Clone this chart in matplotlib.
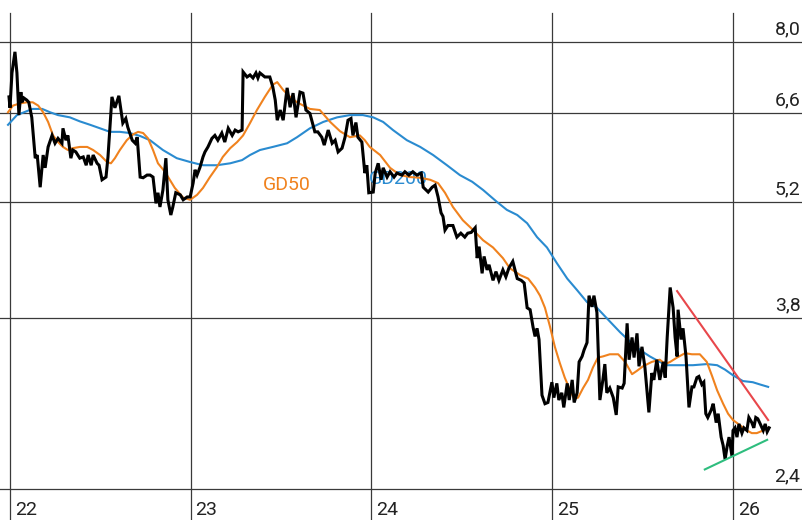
import matplotlib
matplotlib.use("Agg")
import matplotlib.pyplot as plt
import pandas as pd

plt.rcParams['font.family'] = ['Roboto', 'DejaVu Sans']

# day offsets from 2022-01-01 and closing prices
price_days = [-2, 0, 4, 10, 14, 18, 22, 24, 28, 34, 38, 44, 51, 55, 61, 67, 71, 77, 85, 91,
              97, 105, 107, 113, 117, 123, 127, 133, 141, 148, 154, 158, 164, 168, 176, 180, 186, 194, 198, 206,
              212, 220, 228, 234, 238, 247, 253, 257, 263, 269, 277, 283, 289, 295, 299, 303, 309, 315, 319, 325,
              329, 335, 344, 350, 358, 364, 370, 374, 378, 384, 390, 394, 400, 408, 414, 420, 428, 434, 441, 449,
              455, 461, 469, 471, 479, 485, 491, 497, 501, 505, 515, 525, 531, 536, 540, 546, 552, 560, 566, 572,
              578, 586, 592, 598, 606, 616, 622, 630, 635, 643, 651, 657, 663, 671, 677, 683, 689, 693, 699, 703,
              711, 717, 721, 725, 734, 738, 744, 750, 754, 762, 768, 776, 782, 792, 798, 806, 814, 822, 831, 835,
              845, 853, 859, 865, 871, 875, 879, 885, 895, 903, 911, 919, 925, 932, 940, 944, 948, 954, 958, 964,
              968, 976, 982, 988, 996, 1002, 1008, 1016, 1025, 1033, 1039, 1045, 1051, 1057, 1061, 1065, 1069, 1075, 1081, 1087,
              1095, 1099, 1105, 1109, 1115, 1119, 1126, 1130, 1136, 1140, 1146, 1150, 1156, 1160, 1166, 1170, 1176, 1180, 1186, 1192,
              1198, 1202, 1206, 1212, 1219, 1225, 1229, 1237, 1241, 1247, 1251, 1257, 1261, 1267, 1271, 1277, 1283, 1291, 1297, 1301,
              1307, 1313, 1320, 1324, 1328, 1334, 1340, 1344, 1348, 1350, 1356, 1360, 1366, 1368, 1372, 1378, 1382, 1388, 1392, 1398,
              1402, 1406, 1410, 1417, 1421, 1427, 1431, 1437, 1441, 1445, 1449, 1453, 1459, 1461, 1465, 1469, 1473, 1479, 1483, 1489,
              1493, 1499, 1503, 1507, 1511, 1516, 1522, 1526, 1530, 1534]
price = [6.90, 6.70, 7.36, 7.79, 7.36, 6.57, 6.99, 6.80, 6.88, 6.84, 6.80, 6.53, 5.85, 5.90, 5.41, 5.90, 5.70, 6.03, 6.22, 6.09,
         6.17, 6.09, 6.34, 6.14, 6.22, 5.85, 5.98, 5.95, 5.85, 5.87, 5.74, 5.90, 5.74, 5.90, 5.77, 5.74, 5.52, 5.56, 5.87, 6.90,
         6.70, 6.92, 6.43, 6.51, 6.36, 6.14, 6.09, 6.19, 5.56, 5.55, 5.59, 5.59, 5.56, 5.18, 5.33, 5.13, 5.37, 5.85, 5.23, 5.02,
         5.13, 5.33, 5.30, 5.23, 5.27, 5.27, 5.47, 5.67, 5.59, 5.71, 5.87, 5.95, 6.03, 6.17, 6.22, 6.14, 6.26, 6.11, 6.34, 6.22,
         6.31, 6.28, 6.31, 7.38, 7.28, 7.32, 7.26, 7.36, 7.26, 7.36, 7.28, 7.28, 7.09, 6.84, 6.48, 6.66, 6.48, 7.07, 6.71, 6.97,
         6.53, 6.99, 6.97, 6.66, 6.60, 6.28, 6.28, 6.19, 6.06, 6.31, 6.09, 6.14, 5.95, 6.01, 6.19, 6.48, 6.51, 6.22, 6.44, 6.19,
         6.11, 5.62, 5.74, 5.33, 5.34, 5.62, 5.77, 5.52, 5.70, 5.56, 5.64, 5.56, 5.62, 5.59, 5.64, 5.59, 5.64, 5.59, 5.62, 5.41,
         5.34, 5.41, 5.44, 5.27, 5.05, 5.00, 4.82, 4.88, 4.88, 4.73, 4.78, 4.73, 4.78, 4.79, 4.85, 4.47, 4.61, 4.29, 4.49, 4.33,
         4.39, 4.21, 4.31, 4.21, 4.33, 4.25, 4.35, 4.43, 4.23, 4.21, 4.18, 3.91, 3.89, 3.71, 3.62, 3.70, 3.59, 3.09, 3.02, 3.03,
         3.20, 3.07, 3.19, 3.05, 3.11, 2.99, 3.19, 3.05, 3.22, 3.03, 3.11, 3.38, 3.43, 3.49, 3.56, 4.04, 3.92, 4.04, 3.86, 3.05,
         3.22, 3.36, 3.11, 3.15, 3.07, 2.93, 3.16, 3.15, 3.19, 3.75, 3.40, 3.61, 3.42, 3.65, 3.34, 3.52, 3.33, 2.95, 3.28, 3.22,
         3.40, 3.22, 3.38, 3.24, 3.61, 4.13, 3.91, 3.61, 3.43, 3.89, 3.59, 3.70, 3.43, 3.28, 2.99, 3.16, 3.16, 3.24, 3.25, 3.18,
         3.20, 2.94, 2.91, 2.97, 3.02, 2.87, 2.94, 2.76, 2.70, 2.60, 2.69, 2.76, 2.62, 2.81, 2.83, 2.76, 2.86, 2.79, 2.83, 2.81,
         2.91, 2.87, 2.83, 2.91, 2.90, 2.86, 2.81, 2.86, 2.80, 2.83]

# 50-day moving average (GD50)
gd50_days = [-4, 6, 20, 34, 46, 57, 67, 77, 87, 97, 107, 117, 127, 141, 156, 168, 182, 196, 204, 212,
             222, 236, 249, 259, 269, 279, 289, 299, 313, 333, 350, 364, 378, 390, 404, 418, 430, 445, 459, 471,
             485, 499, 515, 531, 540, 552, 566, 580, 606, 626, 647, 667, 687, 707, 717, 727, 748, 768, 788, 808,
             829, 849, 865, 879, 895, 915, 936, 956, 976, 996, 1010, 1031, 1047, 1061, 1071, 1081, 1091, 1101, 1111, 1121,
             1132, 1140, 1148, 1158, 1168, 1178, 1188, 1198, 1212, 1229, 1243, 1257, 1267, 1279, 1297, 1313, 1324, 1334, 1348, 1364,
             1378, 1394, 1408, 1419, 1429, 1441, 1451, 1461, 1475, 1489, 1499, 1509, 1522, 1532]
gd50 = [6.62, 6.74, 6.78, 6.80, 6.80, 6.74, 6.62, 6.45, 6.22, 6.11, 6.03, 5.98, 6.01, 6.03, 6.03, 5.98, 5.90, 5.79, 5.77, 5.85,
        5.98, 6.14, 6.24, 6.28, 6.26, 6.17, 5.98, 5.77, 5.64, 5.40, 5.26, 5.23, 5.30, 5.40, 5.56, 5.71, 5.87, 6.01, 6.11, 6.22,
        6.43, 6.66, 6.90, 7.13, 7.18, 7.03, 6.90, 6.80, 6.68, 6.66, 6.45, 6.29, 6.19, 6.22, 6.14, 6.03, 5.90, 5.70, 5.59, 5.56,
        5.55, 5.52, 5.47, 5.33, 5.13, 4.95, 4.82, 4.69, 4.60, 4.47, 4.35, 4.27, 4.23, 4.13, 4.04, 3.91, 3.72, 3.52, 3.37, 3.24,
        3.13, 3.06, 3.07, 3.15, 3.22, 3.33, 3.42, 3.43, 3.45, 3.45, 3.38, 3.27, 3.30, 3.34, 3.38, 3.40, 3.36, 3.38, 3.42, 3.46,
        3.45, 3.45, 3.38, 3.25, 3.13, 3.02, 2.94, 2.89, 2.85, 2.81, 2.79, 2.79, 2.81, 2.83]

# 200-day moving average (GD200)
gd200_days = [-4, 14, 34, 46, 65, 81, 97, 121, 141, 162, 182, 202, 222, 242, 263, 283, 309, 337, 364, 390,
              418, 445, 469, 485, 505, 531, 560, 580, 606, 633, 661, 687, 713, 734, 754, 774, 802, 829, 855, 883,
              909, 934, 956, 984, 1004, 1025, 1045, 1065, 1085, 1105, 1126, 1146, 1166, 1186, 1210, 1233, 1253, 1273, 1293, 1313,
              1328, 1354, 1380, 1408, 1429, 1445, 1461, 1481, 1501, 1516, 1532]
gd200 = [6.40, 6.57, 6.64, 6.68, 6.68, 6.62, 6.57, 6.53, 6.46, 6.40, 6.34, 6.28, 6.28, 6.26, 6.21, 6.14, 5.98, 5.85, 5.79, 5.74,
         5.74, 5.77, 5.82, 5.90, 5.98, 6.03, 6.09, 6.19, 6.34, 6.45, 6.53, 6.57, 6.57, 6.53, 6.45, 6.31, 6.14, 6.03, 5.90, 5.74,
         5.59, 5.49, 5.37, 5.20, 5.09, 5.02, 4.91, 4.73, 4.60, 4.41, 4.23, 4.10, 3.97, 3.91, 3.78, 3.66, 3.57, 3.49, 3.43, 3.38,
         3.35, 3.35, 3.35, 3.36, 3.35, 3.31, 3.26, 3.21, 3.20, 3.18, 3.16]

# trend lines (start/end)
red_days = [1348, 1532]
red_price = [4.09, 2.89]
green_days = [1404, 1530]
green_price = [2.53, 2.74]

yticks = [8.0, 6.6, 5.2, 3.8, 2.4]
ytick_labels = ['8,0', '6,6', '5,2', '3,8', '2,4']
years = ['2022', '2023', '2024', '2025', '2026']
year_labels = ['22', '23', '24', '25', '26']

base = pd.Timestamp('2022-01-01')


def to_dates(days):
    return base + pd.to_timedelta(days, unit='D')


fig = plt.figure(figsize=(8.02, 5.20), dpi=100)
ax = fig.add_axes([0, 0, 1, 1])
ax.set_yscale('log')
ax.set_ylim(2.208, 8.957)
ax.set_xlim(base - pd.Timedelta(days=20.2), base + pd.Timedelta(days=1600.4))
ax.axis('off')

grid_color = '#3a3a3a'
for v in yticks:
    ax.axhline(v, color=grid_color, lw=0.9, zorder=1)
for y in years:
    ax.axvline(pd.Timestamp(y + '-01-01'), ymin=0, ymax=0.975, color=grid_color, lw=0.9, zorder=1)

for v, lab in zip(yticks, ytick_labels):
    ax.annotate(lab, xy=(0.998, v), xycoords=('axes fraction', 'data'),
                xytext=(0, 5.5), textcoords='offset points',
                ha='right', va='baseline', fontsize=14, color='#222222')
for y, lab in zip(years, year_labels):
    ax.annotate(lab, xy=(pd.Timestamp(y + '-01-01'), 0), xycoords=('data', 'axes fraction'),
                xytext=(3.5, 0.5), textcoords='offset points',
                ha='left', va='bottom', fontsize=14, color='#222222')

ax.plot(to_dates(gd200_days), gd200, color='#2a8bd0', lw=1.5, zorder=3)
ax.plot(to_dates(gd50_days), gd50, color='#f0821e', lw=1.5, zorder=3)
ax.text(base + pd.Timedelta(days=511), 5.37, 'GD50', color='#f0821e', fontsize=14,
        ha='left', va='baseline', zorder=2)
ax.text(base + pd.Timedelta(days=725), 5.45, 'GD200', color='#2a8bd0', fontsize=14,
        ha='left', va='baseline', zorder=2)
ax.plot(to_dates(price_days), price, color='black', lw=2.2, zorder=4, solid_joinstyle='miter')
ax.plot(to_dates(red_days), red_price, color='#e8474b', lw=1.5, zorder=5)
ax.plot(to_dates(green_days), green_price, color='#2ebd7e', lw=1.5, zorder=5)

fig.savefig('out.png', dpi=100)
